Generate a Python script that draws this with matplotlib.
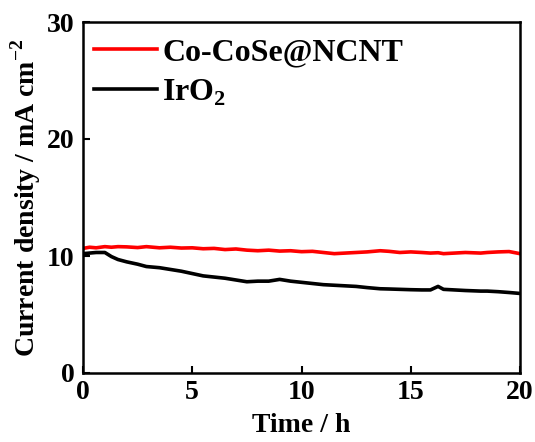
import matplotlib
matplotlib.use("Agg")
import matplotlib.pyplot as plt

# 数据
time_h = [0, 0.3, 0.6, 1.0, 1.3, 1.6, 2.0, 2.5, 2.9, 3.5, 4.0, 4.5, 5.0, 5.5, 6.0,
          6.5, 7.0, 7.5, 8.0, 8.5, 9.0, 9.5, 10.0, 10.5, 11.0, 11.5, 12.0, 12.5,
          13.0, 13.6, 14.0, 14.5, 15.0, 15.5, 15.9, 16.25, 16.5, 17.0, 17.5,
          18.2, 18.5, 19.0, 19.5, 20.0]
co_cose = [10.65, 10.75, 10.7, 10.8, 10.75, 10.8, 10.78, 10.72, 10.8, 10.7, 10.75,
           10.68, 10.7, 10.62, 10.65, 10.55, 10.6, 10.5, 10.45, 10.5, 10.42, 10.45,
           10.37, 10.4, 10.3, 10.2, 10.25, 10.3, 10.35, 10.45, 10.4, 10.3, 10.35,
           10.3, 10.25, 10.28, 10.2, 10.25, 10.3, 10.25, 10.3, 10.35, 10.38, 10.2]
iro2 = [10.2, 10.25, 10.3, 10.3, 9.95, 9.7, 9.5, 9.3, 9.1, 9.0, 8.85, 8.7, 8.5,
        8.3, 8.2, 8.1, 7.95, 7.8, 7.85, 7.85, 8.0, 7.85, 7.75, 7.65, 7.55, 7.5,
        7.45, 7.4, 7.3, 7.2, 7.18, 7.15, 7.12, 7.1, 7.1, 7.4, 7.15, 7.1, 7.05,
        7.0, 7.0, 6.95, 6.88, 6.8]

plt.rcParams['font.family'] = ['Liberation Serif', 'DejaVu Serif']
plt.rcParams['font.weight'] = 'bold'
plt.rcParams['mathtext.fontset'] = 'custom'
plt.rcParams['mathtext.rm'] = 'Liberation Serif:bold'
plt.rcParams['mathtext.bf'] = 'Liberation Serif:bold'

fig = plt.figure(figsize=(5.35, 4.42), dpi=100)
ax = fig.add_axes([83 / 535, 69 / 442, 437 / 535, 351 / 442])

ax.plot(time_h, co_cose, color='#ff0000', lw=2.6, label='Co-CoSe@NCNT')
ax.plot(time_h, iro2, color='black', lw=2.6, label='IrO$_2$')

ax.set_xlim(0, 20)
ax.set_ylim(0, 30)
ax.set_xticks([0, 5, 10, 15, 20])
ax.set_yticks([0, 10, 20, 30])
ax.tick_params(direction='in', length=5, width=1.5, labelsize=20)
ax.tick_params(axis='y', pad=6)
ax.tick_params(axis='x', pad=5)
for s in ax.spines.values():
    s.set_linewidth(1.8)

ax.set_xlabel('Time / h', fontsize=20, fontweight='bold', labelpad=6)
ax.set_ylabel('Current density / mA cm$^{-2}$', fontsize=20, fontweight='bold', labelpad=3)

ax.legend(loc='upper left', frameon=False, fontsize=23, handlelength=2.0,
          handletextpad=0.15, labelspacing=0.3, borderaxespad=0.0,
          bbox_to_anchor=(-0.005, 0.99))

fig.savefig('out.png', dpi=100)
